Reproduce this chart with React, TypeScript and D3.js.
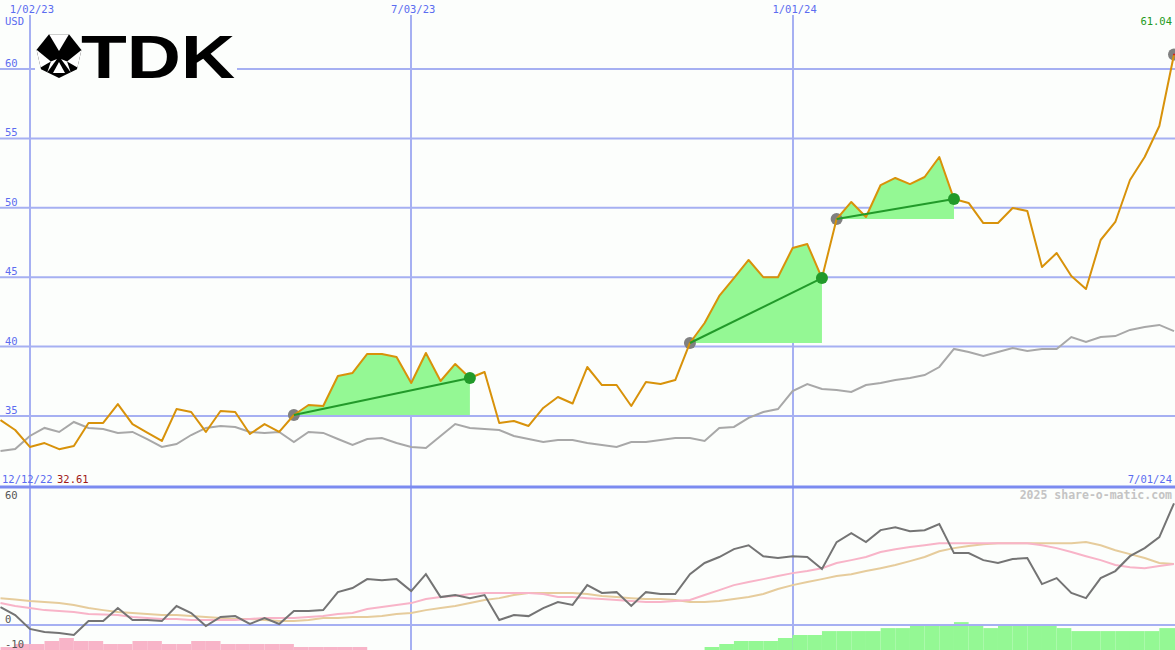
import React from "react";
import * as d3 from "d3";

// weekly closes, index 0 = week of 12/19/22
const dateLabels = ["1/02/23", "7/03/23", "1/01/24"];
const dateLabelIdx = [2, 28, 54];
const priceTicks = [35, 40, 45, 50, 55, 60];
const lowerTicks = [60, 0, -10];

const price = [
  34.71, 33.99, 32.77, 33.05, 32.61, 32.84, 34.5, 34.5, 35.86, 34.42,
  33.81, 33.2, 35.5, 35.29, 33.85, 35.36, 35.29, 33.7, 34.42, 33.85,
  35.07, 35.79, 35.72, 37.88, 38.1, 39.47, 39.47, 39.25, 37.38, 39.54,
  37.52, 38.75, 37.74, 38.17, 34.5, 34.64, 34.28, 35.58, 36.37, 35.9,
  38.53, 37.23, 37.23, 35.72, 37.45, 37.3, 37.59, 40.26, 41.7, 43.65,
  44.94, 46.24, 45.0, 45.0, 47.1, 47.39, 44.94, 49.19, 50.42, 49.34,
  51.64, 52.15, 51.71, 52.22, 53.66, 50.63, 50.35, 48.9, 48.9, 49.99,
  49.77, 45.73, 46.74, 45.09, 44.15, 47.68, 48.98, 52.0, 53.66, 55.89,
  61.04,
];

const benchmark = [
  32.48, 32.62, 33.56, 34.14, 33.85, 34.57, 34.14, 34.06, 33.78, 33.85,
  33.34, 32.77, 32.98, 33.63, 34.14, 34.28, 34.21, 33.85, 33.78, 33.85,
  33.13, 33.85, 33.78, 33.34, 32.91, 33.34, 33.41, 33.05, 32.77, 32.69,
  33.56, 34.42, 34.14, 34.06, 33.99, 33.56, 33.34, 33.13, 33.27, 33.27,
  33.05, 32.91, 32.77, 33.13, 33.13, 33.27, 33.41, 33.41, 33.2, 34.14,
  34.21, 34.86, 35.29, 35.5, 36.8, 37.3, 36.95, 36.87, 36.73, 37.23,
  37.38, 37.59, 37.74, 37.95, 38.53, 39.83, 39.61, 39.32, 39.61, 39.9,
  39.68, 39.83, 39.83, 40.69, 40.33, 40.69, 40.76, 41.2, 41.41, 41.56,
  41.12,
];

const momentum = [
  8.7, 4.8, -1.9, -3.4, -3.9, -4.8, 1.9, 1.9, 8.2, 2.4,
  2.4, 1.9, 9.2, 5.8, -0.5, 3.9, 4.3, 0.5, 3.4, 0.5,
  6.8, 6.8, 7.2, 15.9, 17.9, 22.2, 21.7, 22.2, 16.4, 24.6,
  13.5, 14.5, 13.0, 14.5, 2.4, 4.8, 4.3, 8.2, 11.1, 9.7,
  19.3, 15.5, 15.9, 9.2, 15.9, 15.0, 15.0, 24.6, 30.0, 32.9,
  36.7, 38.6, 33.3, 32.4, 33.3, 32.9, 27.1, 40.1, 44.4, 40.1,
  45.9, 47.3, 45.4, 45.9, 48.8, 34.8, 34.8, 31.4, 30.0, 31.9,
  32.4, 19.8, 22.7, 15.5, 13.0, 22.7, 26.1, 33.3, 37.2, 42.5,
  58.9,
];

const momFast = [
  10.6, 9.2, 8.2, 7.2, 6.8, 6.3, 5.3, 5.1, 4.8, 3.9,
  3.4, 2.9, 2.9, 2.4, 2.4, 2.4, 2.4, 2.9, 3.4, 3.4,
  3.4, 3.9, 4.3, 5.3, 5.8, 7.7, 8.7, 9.7, 10.6, 12.6,
  13.5, 14.0, 15.0, 15.5, 15.5, 15.5, 15.5, 15.0, 13.5, 13.5,
  13.0, 12.6, 12.1, 11.6, 11.1, 11.1, 11.6, 12.1, 14.5, 16.9,
  19.3, 20.8, 22.2, 23.7, 25.1, 26.1, 27.5, 30.0, 31.4, 32.9,
  35.3, 36.7, 37.7, 38.6, 39.6, 39.6, 39.6, 39.6, 39.6, 39.6,
  39.6, 38.6, 37.2, 35.3, 33.3, 31.4, 29.0, 28.0, 27.5, 28.5,
  29.5,
];

const momSlow = [
  13.0, 12.3, 11.6, 11.1, 10.6, 9.7, 8.2, 7.2, 6.3, 5.8,
  5.3, 4.8, 4.8, 4.3, 3.9, 3.4, 2.9, 2.9, 2.4, 1.9,
  1.9, 2.4, 3.4, 3.4, 3.9, 3.9, 4.3, 5.3, 5.8, 7.2,
  8.2, 9.2, 10.6, 12.1, 13.0, 14.5, 15.5, 15.5, 15.5, 15.5,
  15.0, 14.0, 13.5, 13.0, 12.6, 12.6, 12.1, 11.1, 11.1, 11.6,
  12.6, 13.5, 15.0, 17.4, 19.3, 20.8, 22.2, 23.7, 24.6, 26.1,
  27.5, 29.0, 30.9, 32.9, 35.7, 37.2, 38.2, 39.1, 39.6, 39.6,
  39.6, 39.6, 39.6, 39.6, 40.1, 38.6, 36.2, 34.3, 32.4, 30.0,
  29.5,
];

const histogram = [
  -1, -2, -2, -3, -4, -3, -3, -2, -2, -3,
  -3, -2, -2, -3, -3, -2, -2, -2, -2, -2,
  -1, -1, -1, -1, -1, 0, 0, 0, 0, 0,
  0, 0, 0, 0, 0, 0, 0, 0, 0, 0,
  0, 0, 0, 0, 0, 0, 0, 0, 1, 2,
  3, 3, 3, 4, 5, 5, 6.3, 6.3, 6.3, 6.3,
  7.3, 7.3, 8.3, 8.3, 8.3, 9.3, 8.3, 7.3, 8.3, 8.3,
  8.3, 8.3, 7.3, 6.3, 6.3, 6.3, 6.3, 6.3, 6.3, 7.3,
  7.3,
];

const tradeStart = [20, 47, 57];
const tradeEnd = [32, 56, 65];

const W = 1175;
const H = 650;
const BG = "#fcfefc";
const BLUE = "#5b6cf0";
const GRID = "#a6b0f2";
const FONT = "DejaVu Sans Mono, monospace";

const x = d3.scaleLinear().domain([0, price.length - 1]).range([0.5, 1174]);
const yP = d3.scaleLinear().domain([35, 60]).range([416, 69]);
const yL = d3.scaleLinear().domain([0, 60]).range([625, 501]);
const barH = d3.scaleLinear().domain([0, 10]).range([0, 30]);

const priceLine = d3.line<number>().x((d, i) => x(i)).y((d) => yP(d));
const lowerLine = d3.line<number>().x((d, i) => x(i)).y((d) => yL(d));

// TDK mark: heptagon with triangular cut-outs
const Logo = () => {
  const cx = 59, cy = 55, r = 23;
  const v = d3.range(7).map((k) => {
    const a = ((-115.7 + k * 51.43) * Math.PI) / 180;
    return [cx + r * Math.cos(a), cy + r * Math.sin(a)];
  });
  const pts = (a: number[][]) => a.map((p) => p.join(",")).join(" ");
  const mid = (a: number[], b: number[], t = 0.5) => [a[0] + (b[0] - a[0]) * t, a[1] + (b[1] - a[1]) * t];
  const c = [cx, cy];
  const white = [
    [v[0], v[1], [cx, cy - 4]],
    [v[6], mid(v[5], v[6], 0.1), mid(c, v[5], 0.45)],
    [v[2], mid(v[3], v[2], 0.1), mid(c, v[3], 0.45)],
    [mid(v[5], v[4], 0.35), mid(c, v[5], 0.45), [cx - 2, cy + 4]],
    [mid(v[3], v[4], 0.35), mid(c, v[3], 0.45), [cx + 2, cy + 4]],
    [[cx - 6, cy + 18], [cx + 6, cy + 18], [cx, cy + 7]],
  ];
  return (
    <g>
      <rect x={35} y={29} width={202} height={54} fill={BG} />
      <polygon points={pts(v)} fill="#000" />
      {white.map((t, k) => (
        <polygon key={k} points={pts(t)} fill="#fff" />
      ))}
      <text
        x={81}
        y={78}
        fontFamily="Liberation Sans, Arial, sans-serif"
        fontWeight={700}
        fontSize={62}
        textLength={154}
        lengthAdjust="spacingAndGlyphs"
        fill="#000"
      >
        TDK
      </text>
    </g>
  );
};

const App = () => {
  const last = price.length - 1;
  return (
    <svg
      width={W}
      height={H}
      style={{ position: "absolute", left: 0, top: 0, display: "block", background: BG }}
    >
      <rect width={W} height={H} fill={BG} />

      {/* grid */}
      {priceTicks.map((t) => (
        <line key={t} x1={0} x2={W} y1={yP(t)} y2={yP(t)} stroke={GRID} strokeWidth={2} />
      ))}
      {dateLabelIdx.map((d) => (
        <line key={d} x1={Math.round(x(d))} x2={Math.round(x(d))} y1={15} y2={H} stroke={GRID} strokeWidth={2} />
      ))}

      {/* gain areas */}
      {tradeStart.map((s, k) => {
        const e = tradeEnd[k];
        const seg = d3.range(s, e + 1);
        const area = d3
          .area<number>()
          .x((i) => x(i))
          .y0(yP(price[s]))
          .y1((i) => yP(price[i]));
        return <path key={s} d={area(seg) || ""} fill="#94f894" />;
      })}

      <path d={priceLine(benchmark) || ""} fill="none" stroke="#a8a8a8" strokeWidth={2} />

      {tradeStart.map((s) => (
        <circle key={s} cx={x(s)} cy={yP(price[s])} r={6} fill="#808080" />
      ))}
      <circle cx={x(last)} cy={yP(price[last])} r={6} fill="#808080" />

      <path d={priceLine(price) || ""} fill="none" stroke="#d8920a" strokeWidth={2} strokeLinejoin="round" />

      {tradeStart.map((s, k) => (
        <line
          key={s}
          x1={x(s)}
          y1={yP(price[s])}
          x2={x(tradeEnd[k])}
          y2={yP(price[tradeEnd[k]])}
          stroke="#229a2a"
          strokeWidth={2}
        />
      ))}
      {tradeEnd.map((e) => (
        <circle key={e} cx={x(e)} cy={yP(price[e])} r={6} fill="#229a2a" />
      ))}
      <line x1={x(last) - 1} x2={x(last) + 4} y1={yP(price[last])} y2={yP(price[last])} stroke="#d02020" strokeWidth={1.5} />

      <Logo />

      {/* top labels */}
      <g fontFamily={FONT} fontSize={10.5}>
        {dateLabels.map((l, k) => (
          <text key={l} x={x(dateLabelIdx[k]) + 2} y={13} textAnchor="middle" fill={BLUE}>
            {l}
          </text>
        ))}
        <text x={5} y={25} fill={BLUE}>USD</text>
        {priceTicks.map((t) => (
          <text key={t} x={5} y={yP(t) - 2} fill={BLUE}>
            {t}
          </text>
        ))}
        <text x={1172} y={25} textAnchor="end" fill="#229a22">
          {price[last].toFixed(2)}
        </text>
        <text x={2} y={483} fill={BLUE}>12/12/22</text>
        <text x={57} y={483} fill="#a01818">{d3.min(price)!.toFixed(2)}</text>
        <text x={1172} y={483} textAnchor="end" fill={BLUE}>7/01/24</text>
      </g>

      {/* separator */}
      <rect x={0} y={485.5} width={W} height={3} fill="#7b8bf0" />

      {/* lower panel */}
      {histogram.map((v, i) =>
        v === 0 ? null : (
          <rect
            key={i}
            x={x(i)}
            y={H - barH(Math.abs(v))}
            width={x(i + 1) - x(i)}
            height={barH(Math.abs(v))}
            fill={v < 0 ? "#f8b4c8" : "#94f894"}
          />
        )
      )}
      <line x1={0} x2={W} y1={yL(0)} y2={yL(0)} stroke={GRID} strokeWidth={2} />
      <path d={lowerLine(momSlow) || ""} fill="none" stroke="#e6cc9c" strokeWidth={2} />
      <path d={lowerLine(momFast) || ""} fill="none" stroke="#f8b4c8" strokeWidth={2} />
      <path d={lowerLine(momentum) || ""} fill="none" stroke="#747474" strokeWidth={2} />

      <g fontFamily={FONT} fontSize={10.5} fill="#555">
        {lowerTicks.map((t) => (
          <text key={t} x={5} y={t < 0 ? yL(t) + 2 : yL(t) - 2}>
            {t}
          </text>
        ))}
      </g>
      <text x={1172} y={499} textAnchor="end" fontFamily={FONT} fontSize={11.5} fontWeight={700} fill="#c4c4c4">
        2025 share-o-matic.com
      </text>
    </svg>
  );
};

export default App;
